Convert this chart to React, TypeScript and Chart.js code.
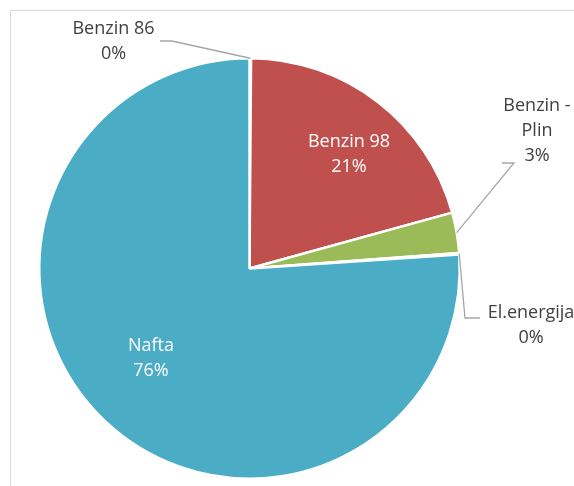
import React, { useEffect, useRef } from 'react';
import { Chart, registerables } from 'chart.js';

Chart.register(...registerables);

const categories = ['Benzin 86', 'Benzin 98', 'Benzin - Plin', 'El.energija', 'Nafta'];
const shares = [0.12, 20.6, 3.1, 0.12, 76.06];
const percentLabels = ['0%', '21%', '3%', '0%', '76%'];
const labelLines = [['Benzin 86'], ['Benzin 98'], ['Benzin -', 'Plin'], ['El.energija'], ['Nafta']];
const sliceColors = ['#4F81BD', '#C0504D', '#9BBB59', '#8064A2', '#4BACC6'];

// label placement (offsets from pie centre) and leader-line elbows
const labelLayout = [
  { dx: -136, dy: -227.5, inside: false, path: [[-89.5, -227.5], [-77.5, -227.5]] },
  { dx: 99.5, dy: -114.5, inside: true, path: [] },
  { dx: 287.5, dy: -137.5, inside: false, path: [[252.5, -105.5], [264.5, -105.5]] },
  { dx: 281.5, dy: 57, inside: false, path: [[230.5, 49.5], [215.5, 49.5]] },
  { dx: -98.5, dy: 89.5, inside: true, path: [] },
];

const FONT = '18px "Open Sans", sans-serif';
const LINE_H = 25;

const labelPlugin = {
  id: 'sliceLabels',
  beforeDraw(chart: any) {
    const ctx = chart.ctx;
    ctx.save();
    ctx.strokeStyle = '#D9D9D9';
    ctx.lineWidth = 1;
    ctx.beginPath();
    ctx.moveTo(10.5, chart.height + 5);
    ctx.lineTo(10.5, 10.5);
    ctx.lineTo(chart.width + 5, 10.5);
    ctx.stroke();
    ctx.restore();
  },
  afterDraw(chart: any) {
    const ctx = chart.ctx;
    const meta = chart.getDatasetMeta(0);
    ctx.save();
    meta.data.forEach((arc: any, i: number) => {
      const lay = labelLayout[i];
      const { x, y, outerRadius, startAngle, endAngle } = arc.getProps(
        ['x', 'y', 'outerRadius', 'startAngle', 'endAngle'],
        true
      );
      const mid = (startAngle + endAngle) / 2;
      if (!lay.inside) {
        const ex = x + Math.cos(mid) * outerRadius;
        const ey = y + Math.sin(mid) * outerRadius;
        ctx.strokeStyle = '#A6A6A6';
        ctx.lineWidth = 1.3;
        ctx.beginPath();
        lay.path.forEach((p: number[], k: number) => {
          if (k === 0) ctx.moveTo(x + p[0], y + p[1]);
          else ctx.lineTo(x + p[0], y + p[1]);
        });
        ctx.lineTo(ex, ey);
        ctx.stroke();
      }
      const lines = [...labelLines[i], percentLabels[i]];
      ctx.font = FONT;
      ctx.fillStyle = lay.inside ? '#FFFFFF' : '#404040';
      ctx.textAlign = 'center';
      ctx.textBaseline = 'middle';
      const cx = x + lay.dx;
      const top = y + lay.dy - ((lines.length - 1) * LINE_H) / 2;
      lines.forEach((t, k) => ctx.fillText(t, cx, top + k * LINE_H));
    });
    ctx.restore();
  },
};

export default function App() {
  const ref = useRef<HTMLCanvasElement>(null);
  useEffect(() => {
    if (!ref.current) return;
    const chart = new Chart(ref.current, {
      type: 'pie',
      data: {
        labels: categories,
        datasets: [
          {
            data: shares,
            backgroundColor: sliceColors,
            borderColor: '#FFFFFF',
            borderWidth: 2.5,
          },
        ],
      },
      options: {
        responsive: false,
        animation: false,
        layout: { padding: { left: 38, top: 57, right: 113, bottom: 6 } },
        plugins: {
          legend: { display: false },
          tooltip: { enabled: false },
        },
      },
      plugins: [labelPlugin],
    });
    return () => chart.destroy();
  }, []);
  return (
    <div style={{ position: 'fixed', left: 0, top: 0, width: 574, height: 486, background: '#fff' }}>
      <canvas ref={ref} width={574} height={486} />
    </div>
  );
}
